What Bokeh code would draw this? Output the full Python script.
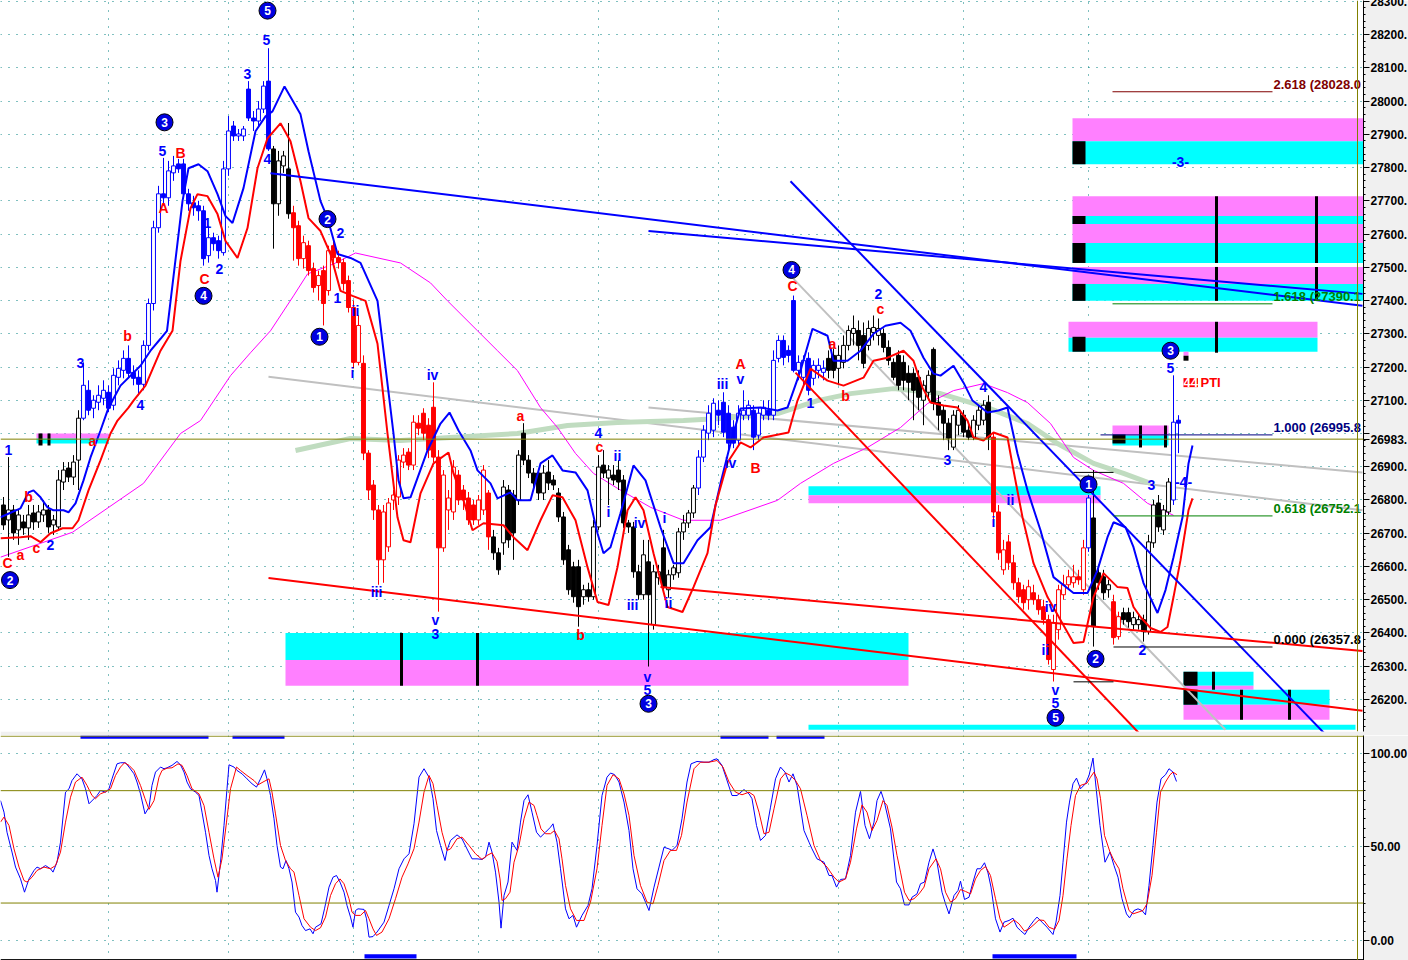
from bokeh.plotting import figure
from bokeh.layouts import column
from bokeh.models import (Range1d, FixedTicker, SingleIntervalTicker, Span, Label,
                          ColumnDataSource, CustomJSTickFormatter)
from bokeh.core.properties import value
from bokeh.embed import file_html
from bokeh.resources import INLINE

# ---------------- price bars (bar index = position in list) ----------------
opens = [26785,26740,26770,26710,26734,26716,26761,26734,26755,26770,
         26725,26719,26854,26896,26869,26920,27046,27130,27076,27094,
         27106,27124,27085,27169,27190,27226,27184,27169,27148,27265,
         27391,27619,27721,27709,27784,27811,27811,27721,27694,27685,
         27670,27535,27589,27580,27544,27796,27925,27895,27895,28036,
         27949,27940,27976,28060,27856,27691,27805,27796,27664,27625,
         27526,27565,27496,27445,27490,27430,27565,27529,27514,27460,
         27379,27214,27211,26941,26845,26770,26620,26659,26800,26809,
         26914,26944,26905,27031,27061,27025,27079,26929,26656,26770,
         26764,26875,26830,26806,26785,26740,26770,26821,26689,26641,
         26671,26830,26815,26800,27001,26920,26881,26881,26821,26884,
         26860,26821,26749,26650,26599,26599,26509,26530,26509,26719,
         26905,26866,26875,26890,26860,26731,26719,26584,26515,26614,
         26425,26566,26656,26530,26575,26581,26704,26731,26761,26836,
         26929,27001,27010,27070,27094,27061,27019,26980,27055,27055,
         27070,26995,27055,27070,27055,27226,27280,27250,27400,27190,
         27169,27226,27166,27190,27184,27226,27235,27196,27214,27265,
         27301,27310,27295,27265,27304,27295,27301,27259,27214,27235,
         27214,27181,27181,27169,27100,27124,27253,27094,27070,27031,
         26959,27025,27055,27010,26989,27025,27040,27094,26989,26764,
         26590,26674,26611,26551,26530,26500,26521,26500,26479,26440,
         26290,26410,26515,26545,26551,26569,26530,26656,26746,26581,
         26569,26530,26494,26389,26461,26461,26425,26425,26440,26404,
         26671,26791,26710,26764,26800,27040]
highs = [26809,26929,26785,26770,26755,26785,26785,26785,26800,26785,
         26755,26890,26914,26914,26935,27070,27214,27160,27115,27145,
         27160,27145,27196,27220,27250,27265,27205,27190,27280,27406,
         27640,27745,27829,27820,27835,27826,27826,27736,27715,27700,
         27685,27625,27604,27595,27820,27955,27940,27916,27925,28060,
         27970,28000,28060,28159,27865,27850,27850,27934,27685,27640,
         27595,27580,27514,27490,27505,27565,27586,27550,27526,27475,
         27400,27355,27235,26950,26860,26785,26785,26806,26830,26935,
         26956,26956,27055,27055,27076,27046,27154,26950,26890,26830,
         26920,26890,26845,26824,26800,26815,26905,26830,26710,26656,
         26860,26845,26830,26950,27031,26935,26896,26890,26905,26920,
         26875,26836,26764,26665,26614,26620,26545,26551,26740,26935,
         26950,26905,26905,26920,26875,26740,26734,26605,26680,26680,
         26605,26605,26710,26590,26605,26716,26755,26770,26845,26950,
         27025,27085,27106,27100,27124,27085,27040,27085,27130,27100,
         27085,27076,27100,27100,27250,27295,27295,27265,27415,27235,
         27235,27244,27220,27226,27220,27250,27256,27265,27295,27325,
         27355,27340,27334,27340,27355,27346,27316,27280,27226,27250,
         27235,27205,27196,27190,27160,27190,27259,27115,27085,27046,
         27070,27085,27070,27025,27055,27085,27100,27115,27004,26785,
         26680,26695,26635,26566,26545,26560,26545,26515,26500,26455,
         26455,26545,26575,26590,26605,26590,26680,26815,26890,26605,
         26590,26560,26515,26464,26476,26476,26464,26455,26455,26695,
         26800,26815,26785,26866,27175,27055]
lows = [26710,26629,26680,26665,26695,26680,26710,26716,26734,26701,
        26695,26710,26830,26854,26845,26830,27040,27055,27046,27070,
        27085,27064,27070,27145,27166,27166,27145,27115,27130,27250,
        27370,27604,27685,27685,27760,27784,27706,27670,27655,27640,
        27505,27514,27550,27526,27535,27775,27880,27880,27880,27940,
        27910,27925,27964,27850,27556,27655,27784,27646,27520,27505,
        27496,27475,27424,27400,27325,27415,27514,27496,27430,27364,
        27196,27205,26920,26800,26740,26545,26551,26644,26770,26785,
        26896,26890,26890,26995,26980,26926,26914,26464,26644,26710,
        26740,26785,26770,26725,26725,26725,26755,26650,26620,26575,
        26635,26656,26620,26785,26905,26866,26830,26800,26800,26830,
        26830,26734,26605,26515,26491,26419,26485,26494,26500,26710,
        26866,26785,26845,26830,26716,26701,26566,26500,26500,26299,
        26410,26545,26530,26506,26560,26566,26680,26716,26746,26815,
        26914,26980,26989,27025,26989,26950,26956,26965,27040,27040,
        26950,26980,27040,27040,27040,27214,27205,27214,27184,27160,
        27145,27115,27145,27166,27160,27166,27166,27145,27196,27250,
        27265,27220,27196,27250,27280,27265,27244,27205,27160,27130,
        27130,27100,27040,27070,27025,27100,27070,27010,26980,26950,
        26950,26995,26989,26980,26980,27010,27025,26950,26740,26620,
        26575,26590,26530,26491,26470,26470,26485,26455,26425,26305,
        26254,26380,26500,26530,26536,26545,26515,26644,26359,26530,
        26500,26506,26365,26380,26425,26416,26410,26410,26374,26395,
        26656,26704,26695,26755,26785,26941]
closes = [26725,26770,26701,26755,26716,26755,26734,26764,26770,26719,
          26740,26860,26890,26869,26914,27046,27145,27070,27100,27115,
          27130,27076,27175,27196,27226,27181,27166,27148,27265,27391,
          27619,27721,27709,27790,27805,27796,27721,27691,27679,27670,
          27526,27589,27571,27550,27796,27910,27895,27901,27916,27949,
          27940,27976,28045,27856,27691,27820,27835,27661,27619,27526,
          27574,27490,27439,27475,27391,27550,27529,27514,27451,27379,
          27214,27325,26941,26830,26770,26620,26764,26791,26815,26920,
          26935,26905,27034,27016,27001,26950,26929,26656,26875,26806,
          26899,26800,26800,26740,26740,26800,26890,26689,26641,26590,
          26839,26680,26701,26935,26920,26881,26851,26821,26881,26851,
          26845,26749,26620,26530,26509,26479,26530,26509,26719,26899,
          26881,26890,26860,26854,26731,26719,26584,26515,26635,26515,
          26584,26584,26539,26575,26596,26704,26731,26761,26836,26929,
          27010,27061,27091,27055,27004,26971,26971,27061,27070,27085,
          26989,27061,27079,27055,27220,27280,27229,27235,27190,27214,
          27220,27130,27205,27205,27196,27190,27190,27235,27265,27310,
          27316,27265,27211,27316,27319,27316,27259,27220,27169,27145,
          27160,27154,27130,27109,27145,27175,27091,27055,27031,26986,
          27055,27070,27004,26989,27040,27070,27085,26989,26764,26641,
          26650,26611,26551,26509,26491,26539,26500,26470,26440,26320,
          26431,26530,26545,26569,26569,26560,26656,26806,26419,26551,
          26521,26545,26386,26449,26440,26434,26446,26440,26404,26674,
          26785,26719,26770,26854,27034,27031]

# ---------------- moving averages (bar, price) ----------------
fast_ma_bar = [-0.6,3.4,5.0,6.0,7.4,8.8,10.0,12.0,13.0,14.4,16.0,17.4,19.4,20.8,21.8,23.4,27.4,29.4,31.4,32.7,
               35.8,37.0,39.0,40.8,42.8,44.4,45.8,48.0,50.4,52.4,53.8,56.2,59.4,61.0,63.4,64.8,66.8,69.4,71.4,74.8,
               76.0,78.0,79.0,80.0,81.4,84.8,87.4,89.2,91.0,93.4,94.8,97.4,98.8,101.4,102.8,105.4,107.4,109.8,111.8,114.4,
               116.8,118.8,120.0,121.4,123.4,126.0,128.4,131.4,134.0,136.0,138.8,141.4,143.4,145.4,147.4,151.4,154.8,156.8,159.4,161.8,
               164.8,166.0,168.8,171.4,174.0,176.4,179.4,181.4,184.0,186.0,187.4,190.0,192.0,193.8,196.8,199.0,200.8,202.8,204.8,207.4,
               210.0,214.0,216.8,218.8,220.8,222.0,224.4,226.0,228.0,230.8,232.4,234.0,235.8,237.0,237.8]
fast_ma = [26748,26775,26823,26829,26808,26778,26769,26769,26763,26790,26859,26928,27009,27069,27099,27144,27204,27249,27285,27309,
           27699,27798,27810,27789,27720,27654,27633,27738,27909,27954,27969,28044,27960,27849,27699,27648,27540,27528,27513,27399,
           27249,27000,26859,26805,26808,26949,27030,27063,27009,26949,26889,26850,26805,26823,26799,26799,26910,26934,26889,26883,
           26829,26700,26640,26658,26760,26904,26859,26718,26610,26610,26679,26718,26850,26970,27075,27078,27069,27078,27189,27315,
           27294,27219,27219,27249,27300,27324,27333,27309,27228,27180,27174,27204,27153,27099,27063,27069,27078,26940,26829,26709,
           26568,26520,26520,26589,26688,26733,26718,26658,26550,26460,26529,26628,26748,26910,26964]
slow_ma_bar = [-0.6,3.4,5.4,7.4,9.4,11.8,13.8,15.0,17.0,19.4,21.4,22.8,25.0,26.0,28.4,31.4,33.8,35.4,37.4,38.8,
               40.8,42.8,44.4,46.8,48.8,50.8,52.8,55.4,57.4,59.4,61.0,63.4,65.4,67.4,69.8,72.4,74.8,76.8,78.8,80.0,
               81.4,83.4,86.0,89.0,90.0,92.0,93.8,96.0,100.0,102.0,104.8,107.4,109.8,111.8,114.4,116.8,118.8,121.0,122.8,124.8,
               126.4,128.0,130.0,132.8,135.8,138.0,140.8,142.4,144.8,147.4,149.4,152.0,157.0,158.8,161.4,164.8,168.0,172.0,174.0,176.8,
               180.0,182.0,183.8,185.4,188.0,190.8,192.8,194.0,196.0,198.0,200.8,202.0,203.8,206.0,208.8,211.4,214.0,216.0,218.0,220.0,
               222.8,224.8,226.0,227.4,229.4,231.4,232.8,234.0,235.4,237.0,237.8]
slow_ma = [26685,26688,26691,26673,26700,26715,26715,26739,26829,26919,27000,27039,27078,27099,27144,27249,27309,27519,27678,27720,
           27714,27660,27579,27528,27618,27798,27888,27933,27879,27759,27648,27609,27540,27429,27414,27399,27270,27000,26748,26679,
           26673,26820,26910,26943,26880,26799,26709,26730,26724,26688,26649,26739,26814,26808,26739,26598,26493,26484,26598,26769,
           26808,26769,26640,26478,26463,26538,26640,26784,26913,26973,26958,26988,27003,27099,27195,27159,27144,27168,27219,27228,
           27249,27219,27138,27093,27084,27078,27039,26988,26979,27003,26988,26889,26748,26610,26508,26439,26370,26373,26508,26580,
           26538,26535,26478,26448,26415,26403,26418,26508,26619,26769,26805]
long_ma_bar = [-0.6,13.8,28.0,35.4,39.4,45.4,49.4,53.4,58.0,60.8,66.0,70.4,79.4,85.4,88.8,94.8,98.8,102.8,107.4,110.8,
               114.4,118.0,122.8,129.4,136.0,143.4,154.8,159.4,166.0,172.8,179.4,184.8,190.0,196.0,200.8,204.8,209.4,214.0,218.0,224.0,
               228.8,234.0]
long_ma = [26628,26703,26850,27000,27039,27174,27243,27309,27414,27480,27510,27543,27513,27453,27399,27309,27249,27189,27078,27018,
           26940,26880,26835,26778,26739,26739,26799,26850,26910,26958,27018,27090,27129,27150,27123,27093,27030,26928,26889,26850,
           26790,26754]
trend_ma_bar = [58.4,69.4,79.4,89.4,102.8,112.8,122.8,136.0,143.4,154.8,162.8,169.4,178.0,187.4,196.8,204.8,210.8,218.0,224.0,229.4]
trend_ma = [26949,26985,26979,26988,27000,27024,27033,27039,27045,27060,27099,27120,27135,27120,27078,27030,26970,26910,26880,26850]

# ---------------- trend lines (bar0, price0, bar1, price1) ----------------
blue_lines = [(53.4, 27783, 271.8, 27384), (129.0, 27609, 271.8, 27420), (157.4, 27759, 265.4, 26079)]
red_lines = [(158.4, 27183, 227.4, 26094), (53.0, 26565, 271.8, 26166), (131.4, 26538, 271.8, 26346)]
gray_lines = [(129.0, 27078, 271.8, 26883), (53.0, 27171, 271.8, 26769), (158.0, 27465, 244.4, 26109)]

# ---------------- projection zones ----------------
zone_left = [56.4, 56.4, 161.0, 161.0, 6.6, 6.6, 213.8, 213.8, 213.8, 213.8, 213.8, 213.8, 213.8, 213.8,
             213.0, 213.0, 221.8, 221.8, 236.0, 236.0, 236.0, 236.0, 161.0, 236.0]
zone_right = [181.0, 181.0, 219.4, 219.4, 21.0, 21.0, 275, 275, 275, 275, 275, 275, 275, 275,
              262.8, 262.8, 233.0, 233.0, 250.0, 250.0, 265.2, 265.2, 270.4, 237.0]
zone_top = [26400, 26319, 26841, 26814, 27000, 26985, 27948, 27879, 27714, 27654, 27630, 27573, 27501, 27450,
            27336, 27288, 27024, 26994, 26283, 26241, 26229, 26184, 26124, 27246]
zone_bottom = [26319, 26241, 26814, 26790, 26985, 26970, 27879, 27810, 27654, 27630, 27573, 27513, 27450, 27399,
               27288, 27246, 26994, 26964, 26241, 26229, 26184, 26139, 26109, 27234]
zone_kind = ["c", "m", "c", "m", "m", "c", "m", "c", "m", "c", "m", "c", "m", "c",
             "m", "c", "m", "c", "c", "m", "c", "m", "c", "m"]
mark_left = [213.8, 213.8, 213.8, 213.8, 213.8, 221.8, 236.0, 236.0, 7.0, 8.8, 236.0]
mark_right = [216.4, 216.4, 216.4, 216.4, 216.4, 224.4, 238.8, 238.8, 7.8, 9.4, 237.0]
mark_top = [27879, 27654, 27573, 27450, 27291, 26997, 26283, 26229, 27000, 27000, 27234]
mark_bottom = [27810, 27630, 27513, 27399, 27246, 26970, 26241, 26184, 26964, 26964, 27219]
tbar_x = [79.6, 94.8, 242.6, 242.6, 262.6, 262.6, 242.6, 227.4, 232.4, 242.0, 247.6, 257.2]
tbar_top = [26400, 26400, 27714, 27501, 27714, 27501, 27336, 27024, 27024, 26283, 26229, 26229]
tbar_bottom = [26241, 26241, 27513, 27399, 27513, 27399, 27243, 26958, 26958, 26229, 26139, 26139]

# ---------------- Fibonacci projection ----------------
fib_ratio = ["2.618", "1.618", "1.000", "0.618", "0.000"]
fib_level = [28028.0, 27390.1, 26995.8, 26752.1, 26357.8]
fib_start = [221.8, 221.8, 219.4, 222.0, 222.0]
fib_end = 253.8
swing_marks = [26883, 26253]

# ---------------- wave labels ----------------
wave_bar = [1.0,9.4,15.4,27.4,31.8,40.8,43.2,48.8,52.6,52.8,67.4,66.8,70.4,69.8,74.6,85.8,86.4,86.4,119.0,122.8,
            121.0,125.8,127.2,128.8,128.8,132.2,133.0,143.8,145.4,147.4,161.4,175.0,188.8,196.0,198.0,201.4,208.4,209.4,210.4,210.4,
            227.8,229.6,233.4,235.4,236.0]
wave_price = [26949,26664,27213,27087,27849,27633,27495,28080,28185,27825,27603,27408,27369,27183,26523,27177,26439,26397,27003,26931,
              26763,26484,26730,26268,26229,26745,26490,27150,26910,27165,27093,27420,26919,27141,26733,26799,26349,26478,26229,26190,
              26349,26844,27198,27816,26853]
wave_text = ["1","2","3","4","5","1","2","3","5","4","2","1","ii","i","iii","iv","v","3","4","ii",
             "i","iii","iv","v","5","i","ii","iii","iv","v","1","2","3","4","i","ii","ii","iv","v","5",
             "2","3","5","-3-","-4-"]
corr_bar = [0.8,3.4,6.6,5.0,17.8,24.8,32.0,35.4,40.2,103.4,115.4,119.2,147.4,150.4,157.8,165.8,168.4,175.4]
corr_price = [26610,26634,26655,26808,26976,27294,27678,27843,27465,27054,26394,26958,27210,26895,27444,27270,27114,27375]
corr_text = ["C","a","c","b","a","b","A","B","C","a","b","c","A","B","C","a","b","c"]
major_bar = [1.3,32.2,40.0,52.8,64.8,63.2,129.0,157.6,210.4,217.0,218.4,233.4]
major_price = [26559,27936,27414,28272,27645,27291,26187,27492,26145,26847,26322,27249]
major_text = ["2","3","4","5","2","1","3","4","5","1","2","3"]

# ---------------- stochastic ----------------
k_bar = [-0.6,0.1,0.7,1.7,2.4,3.4,4.2,5.1,6.1,6.7,7.4,8.4,9.4,9.9,10.7,11.4,12.4,13.1,13.7,14.7,
         15.7,16.4,17.1,18.1,18.7,19.4,20.4,21.1,21.7,22.7,23.4,24.4,25.1,26.1,26.7,27.4,28.3,29.1,29.7,30.4,
         31.4,32.1,32.7,33.7,34.7,35.4,36.1,36.7,37.4,38.4,39.1,39.7,40.4,41.1,41.7,42.4,42.7,43.4,44.1,44.7,
         45.1,46.1,46.7,47.7,48.7,49.7,50.6,51.4,52.2,52.7,53.4,54.1,54.7,55.4,55.9,56.5,57.1,57.7,58.4,59.1,
         59.7,60.4,61.3,61.9,62.4,63.5,64.2,65.1,65.9,66.6,67.3,68.1,68.7,69.4,69.9,70.4,70.9,72.1,72.6,73.1,
         73.9,74.7,76.1,77.1,78.1,79.1,80.1,81.1,82.1,83.1,84.1,85.1,85.9,86.6,87.4,88.3,88.7,
         89.4,90.7,91.7,92.7,93.7,94.7,95.7,96.4,97.1,97.7,98.4,99.1,99.5,100.1,100.9,101.7,102.7,103.4,104.1,104.9,
         105.7,106.6,107.4,108.4,109.4,109.9,110.7,111.4,112.4,113.1,113.9,114.6,115.7,116.9,117.7,118.7,119.7,120.7,121.4,122.2,
         123.1,124.1,125.1,125.9,126.7,127.7,128.4,129.1,130.1,131.1,132.1,133.1,133.7,134.7,135.7,136.7,137.5,138.7,140.1,141.1,
         142.1,142.7,143.7,144.6,145.7,146.7,148.1,149.1,149.7,150.6,151.4,152.4,153.4,154.4,155.4,156.3,157.1,157.9,158.7,160.1,
         161.1,161.7,162.7,164.1,165.1,165.7,166.6,167.4,168.4,169.4,170.4,171.4,172.3,173.2,174.1,174.7,175.5,176.1,177.4,178.6,
         179.4,180.2,181.1,181.7,182.7,183.4,184.2,185.1,185.9,186.7,187.7,188.4,189.1,190.1,190.9,191.4,192.2,193.1,193.9,194.7,
         195.4,196.2,196.9,197.5,198.4,199.3,200.1,201.1,201.9,202.7,203.4,204.3,205.1,206.1,206.7,207.7,208.7,209.9,210.5,211.3,
         211.9,212.6,213.2,213.9,214.6,215.4,216.4,217.1,217.5,217.9,218.4,219.3,220.3,221.3,222.1,222.9,223.7,224.6,225.2,226.1,
         226.9,227.7,228.4,229.1,229.9,230.7,231.5,232.4,233.1,233.9,234.6]
k_val = [74.7,68.5,57.8,47.2,39.2,32.9,25.8,32.9,37.4,39.2,38.3,40.0,38.3,36.5,41.8,52.5,79.2,81.0,85.4,89.0,
         86.3,81.0,73.0,75.7,77.4,80.1,79.2,81.0,86.3,94.3,94.9,94.9,92.6,89.0,84.6,78.3,67.6,71.2,82.8,89.9,
         92.6,91.7,92.2,93.5,95.6,93.8,89.9,84.6,81.0,79.2,77.4,68.5,57.8,45.4,38.3,32.0,25.8,41.8,61.4,81.0,
         93.8,92.6,90.8,89.0,86.3,83.7,81.9,86.3,91.1,86.3,77.4,65.0,50.7,39.2,38.3,42.7,38.3,31.2,15.1,12.5,
         8.0,5.3,6.2,3.6,7.1,8.9,16.9,28.5,33.8,34.7,31.2,25.8,18.7,12.5,7.1,16.0,16.9,16.6,11.6,1.8,
         2.1,4.5,9.8,18.7,27.6,38.3,43.6,46.3,62.3,87.2,91.7,87.2,75.7,58.7,50.7,42.7,48.1,
         53.4,56.4,54.3,48.9,43.6,43.6,43.3,44.5,52.5,47.2,36.5,20.5,6.6,24.0,31.2,52.5,48.1,63.2,74.7,77.8,
         68.5,57.8,55.2,57.8,60.5,62.3,52.5,38.3,16.9,11.6,13.4,7.1,13.4,18.7,27.6,50.7,77.4,87.2,89.4,88.6,
         84.6,73.9,58.7,38.3,27.6,24.9,20.5,16.0,28.5,39.2,49.8,48.9,48.1,50.7,65.0,84.6,94.3,95.6,95.2,95.2,
         96.6,97.0,93.5,86.3,77.4,77.4,80.6,78.3,75.7,61.4,53.4,56.1,71.2,86.3,92.6,89.9,84.6,89.0,82.8,58.7,
         52.5,48.9,43.6,41.8,34.7,34.7,28.5,32.6,32.9,45.4,68.5,79.6,61.4,54.3,63.2,74.7,79.6,74.7,59.6,31.2,
         27.6,19.0,19.0,23.1,24.9,30.3,31.2,41.8,48.9,41.8,25.8,19.6,14.2,24.0,26.7,31.7,21.9,23.1,31.2,38.3,
         38.3,41.5,36.1,28.5,11.6,4.5,9.8,10.7,11.9,7.1,5.3,3.2,7.1,10.7,12.5,9.8,7.1,3.2,9.8,24.0,
         41.8,63.2,73.9,83.7,86.7,81.0,83.7,88.1,92.6,97.4,84.6,61.4,41.8,47.2,40.0,33.8,22.3,14.2,12.1,16.0,
         16.9,16.0,13.7,29.4,50.7,73.9,86.3,88.5,91.7,89.9,84.9]
d_bar = [-0.6,0.1,1.1,2.1,3.1,4.1,4.7,5.7,6.7,8.1,9.4,10.4,11.4,12.4,13.4,14.4,15.7,16.7,17.7,18.4,
         19.4,20.6,21.4,22.4,23.4,24.2,25.1,26.1,27.4,28.3,29.1,30.1,31.1,31.7,32.7,33.7,34.9,35.7,36.7,37.7,
         39.1,40.1,41.1,42.1,42.9,43.7,44.6,45.4,46.6,47.4,48.7,50.1,50.9,52.1,53.1,53.7,54.4,55.4,56.4,57.4,
         58.1,59.1,60.1,61.4,62.4,63.4,64.4,65.4,66.4,67.3,68.1,69.1,69.7,70.4,71.4,72.4,73.1,73.9,74.6,75.7,
         77.1,78.4,79.7,80.9,82.1,83.1,84.1,85.1,85.9,86.7,87.7,88.7,
         89.4,90.7,91.7,93.1,94.4,95.7,96.7,97.7,98.7,99.3,99.7,100.4,101.3,102.1,103.1,104.1,105.1,106.1,106.7,107.5,
         108.4,109.4,110.2,111.1,111.7,112.4,113.4,114.6,116.1,117.4,118.7,119.7,120.7,121.9,123.1,124.1,125.1,126.1,127.4,128.7,
         129.9,130.9,132.1,133.4,134.6,135.6,136.7,138.1,139.4,141.1,142.7,143.9,145.1,146.4,147.7,149.1,150.1,151.1,152.1,153.1,
         154.1,155.4,156.4,157.4,158.4,159.4,160.7,162.1,163.4,164.7,166.1,167.1,168.4,169.4,170.6,171.7,172.7,173.7,174.7,175.9,
         176.7,177.7,178.7,
         179.4,180.2,181.1,182.1,183.1,184.1,185.1,186.5,187.4,188.4,189.4,190.4,191.4,192.4,193.4,194.4,195.4,196.4,197.4,198.4,
         199.3,200.1,201.1,202.1,203.1,204.2,205.1,206.1,207.1,208.1,209.1,210.2,211.1,211.9,212.7,213.5,214.4,215.4,216.7,217.4,
         218.1,218.7,219.4,220.2,221.3,222.1,223.1,223.9,225.1,225.9,226.9,227.9,228.7,229.7,230.6,231.4,232.4,233.3,233.9,234.7]
d_val = [63.2,65.9,61.4,48.9,39.2,32.0,31.2,33.8,37.4,39.2,38.3,40.0,47.2,63.2,76.5,84.6,87.2,82.8,77.4,75.7,
         78.3,79.6,81.0,88.1,92.6,94.9,93.5,90.8,82.8,75.7,70.0,74.7,87.2,90.8,92.0,92.2,94.3,93.5,88.1,81.0,
         78.3,72.1,57.8,43.6,33.8,43.6,63.2,81.0,92.6,90.8,88.1,85.4,83.1,84.9,86.3,79.2,67.6,50.7,42.7,38.3,
         36.5,24.0,11.6,7.1,5.3,6.8,12.5,24.0,30.3,32.9,30.3,22.3,15.1,13.4,13.4,16.0,11.6,6.2,2.7,4.5,
         11.6,22.3,33.8,40.9,49.0,63.2,79.2,88.1,83.7,72.1,57.8,48.1,
         48.9,54.3,55.2,50.7,46.3,43.3,45.4,46.8,42.2,32.9,21.4,22.3,25.8,41.8,50.7,65.0,73.9,72.1,66.8,59.6,
         57.0,57.0,58.7,54.3,43.6,29.4,16.9,10.7,10.7,20.5,38.3,61.4,82.8,88.5,86.3,78.3,66.8,45.4,29.4,20.5,
         19.6,29.4,42.7,48.1,48.1,56.1,73.9,91.7,95.2,95.2,96.1,92.6,84.6,79.2,77.8,79.2,77.4,68.5,57.0,57.8,
         70.3,86.3,89.5,88.1,85.4,81.0,66.8,50.7,42.7,39.2,33.8,31.2,32.9,41.8,59.6,72.4,68.5,58.7,64.1,74.7,
         72.1,60.5,45.4,
         36.5,25.8,21.4,22.3,24.9,28.5,38.3,43.6,38.3,25.8,20.5,22.3,27.2,26.2,24.9,32.9,37.4,39.5,34.7,22.3,
         11.6,7.1,8.9,11.0,8.9,5.0,6.2,8.5,11.0,10.7,7.1,5.9,10.7,24.0,43.6,61.4,77.4,82.8,84.0,87.2,
         89.9,86.3,75.7,56.1,47.2,42.7,38.3,27.6,16.0,14.2,15.1,16.0,19.6,34.7,57.8,79.2,84.6,88.5,89.9,88.5]
signal_top_start = [15.4, 45.8, 143.4, 154.6]
signal_top_end = [41.0, 56.2, 153.0, 164.2]
signal_bot_start = [72.2, 197.8]
signal_bot_end = [82.6, 214.6]

week_bars = [21, 45, 70, 95, 119, 143, 167, 192, 217]
price_ticks = list(range(26200, 28400, 100))
last_price = 26983

# ======================= drawing =======================
BLUE, RED, BLACK = "#0000ff", "#ff0000", "#000000"
CYAN, MAGENTA = "#00ffff", "#ff80ff"
OLIVE, TEAL = "#808000", "#008080"
FONT = "Liberation Sans"

x_rng = Range1d(-0.6, 272.0)


def style_axis(ax):
    ax.axis_line_color = BLACK
    ax.major_tick_out = 6
    ax.major_tick_in = 0
    ax.minor_tick_out = 2
    ax.minor_tick_in = 0
    ax.major_tick_line_color = BLACK
    ax.minor_tick_line_color = BLACK
    ax.major_label_text_font = FONT
    ax.major_label_text_font_size = "12px"
    ax.major_label_text_font_style = "bold"
    ax.major_label_text_color = BLACK
    ax.major_label_standoff = 1


p1 = figure(frame_width=1363, frame_height=731, x_range=x_rng, y_range=Range1d(26103.6, 28302.5),
            x_axis_location=None, y_axis_location="right",
            output_backend="svg", toolbar_location=None,
            min_border_left=0, min_border_right=0, min_border_top=0, min_border_bottom=4)
p1.outline_line_color = None
p1.border_fill_color = "#f0f0f0"
p1.background_fill_color = "white"
p1.yaxis.ticker = FixedTicker(ticks=price_ticks + [last_price],
                              minor_ticks=[v for v in range(26120, 28320, 20) if v % 100 != 0])
p1.yaxis.formatter = CustomJSTickFormatter(code="return tick.toFixed(0) + '.';")
p1.yaxis.major_label_overrides = {27000: "", last_price: f"{last_price}."}
style_axis(p1.yaxis[0])
p1.ygrid.ticker = SingleIntervalTicker(interval=100)
p1.xgrid.ticker = FixedTicker(ticks=week_bars)
for g in (p1.xgrid, p1.ygrid):
    g.grid_line_color = TEAL
    g.grid_line_dash = "1 7"
    g.grid_line_width = 1

# zones
zcol = [CYAN if k == "c" else MAGENTA for k in zone_kind]
p1.quad(left=zone_left, right=zone_right, top=zone_top, bottom=zone_bottom,
        fill_color=zcol, line_color=None)
p1.quad(left=mark_left, right=mark_right, top=mark_top, bottom=mark_bottom,
        fill_color=BLACK, line_color=None)
p1.segment(x0=tbar_x, y0=tbar_bottom, x1=tbar_x, y1=tbar_top, line_color=BLACK, line_width=3)

# gray trend lines + long averages
p1.segment(x0=[l[0] for l in gray_lines], y0=[l[1] for l in gray_lines],
           x1=[l[2] for l in gray_lines], y1=[l[3] for l in gray_lines],
           line_color="#c0c0c0", line_width=2)
p1.line(trend_ma_bar, trend_ma, line_color="#c0dcc0", line_width=5)
p1.line(long_ma_bar, long_ma, line_color="#ff00ff", line_width=1)

# candles
n = len(closes)
idx = list(range(n))
runs = [(0, 15, BLACK), (16, 53, BLUE), (54, 57, BLACK), (58, 97, RED), (98, 138, BLACK),
        (139, 164, BLUE), (165, 197, BLACK), (198, 216, RED), (217, 217, BLUE), (218, 221, BLACK),
        (222, 223, RED), (224, 233, BLACK), (234, 235, BLUE)]
ccol = [BLACK] * n
for a, b, c in runs:
    for i in range(a, b + 1):
        ccol[i] = c
tops = [max(o, c) for o, c in zip(opens, closes)]
bots = [min(o, c) for o, c in zip(opens, closes)]
fills = ["white" if c >= o else col for o, c, col in zip(opens, closes, ccol)]
csrc = ColumnDataSource(dict(x=idx, h=highs, l=lows, top=tops, bot=bots, col=ccol, fill=fills))
p1.segment(x0="x", y0="l", x1="x", y1="h", line_color="col", line_width=1, source=csrc)
p1.vbar(x="x", width=0.78, top="top", bottom="bot", fill_color="fill", line_color="col",
        line_width=1, source=csrc)

# fast / slow averages
p1.line(fast_ma_bar, fast_ma, line_color=BLUE, line_width=2)
p1.line(slow_ma_bar, slow_ma, line_color=RED, line_width=2)

# trend lines
p1.segment(x0=[l[0] for l in blue_lines], y0=[l[1] for l in blue_lines],
           x1=[l[2] for l in blue_lines], y1=[l[3] for l in blue_lines],
           line_color=BLUE, line_width=2)
p1.segment(x0=[l[0] for l in red_lines], y0=[l[1] for l in red_lines],
           x1=[l[2] for l in red_lines], y1=[l[3] for l in red_lines],
           line_color=RED, line_width=2)

# fibonacci
fib_colors = ["#800000", "#008000", "#000080", "#008000", BLACK]
p1.segment(x0=fib_start, y0=fib_level, x1=[fib_end] * 5, y1=fib_level, line_color=fib_colors, line_width=1)
p1.segment(x0=[214.0, 214.0], y0=swing_marks, x1=[222.0, 222.0], y1=swing_marks, line_color=BLACK, line_width=1)
p1.text(x=[fib_end + 0.2] * 5, y=fib_level,
        text=[f"{r} ({lv:.1f}" for r, lv in zip(fib_ratio, fib_level)],
        text_color=fib_colors, text_font=value(FONT), text_font_size="13px", text_font_style="bold",
        text_align="left", text_baseline="bottom")

# current price line
p1.add_layout(Span(location=last_price, dimension="width", line_color=OLIVE, line_width=1))
p1.add_layout(Span(location=270.8, dimension="height", line_color=OLIVE, line_width=1))

# wave labels
p1.text(x=wave_bar, y=wave_price, text=wave_text, text_color=BLUE, text_font=value(FONT),
        text_font_size="14px", text_font_style="bold", text_align="center", text_baseline="middle")
p1.text(x=corr_bar, y=corr_price, text=corr_text, text_color=RED, text_font=value(FONT),
        text_font_size="14px", text_font_style="bold", text_align="center", text_baseline="middle")
p1.scatter(x=major_bar, y=major_price, marker="circle", size=17, fill_color="#0000e0",
           line_color=BLACK, line_width=1)
p1.text(x=major_bar, y=major_price, text=major_text, text_color="white", text_font=value(FONT),
        text_font_size="12px", text_font_style="bold", text_align="center", text_baseline="middle")

p1.add_layout(Label(x=236.0, y=27153, text="44", text_color="white", text_font=FONT,
                    text_font_size="13px", text_font_style="bold", background_fill_color=RED,
                    text_baseline="middle"))
p1.add_layout(Label(x=239.4, y=27153, text="PTI", text_color=RED, text_font=FONT,
                    text_font_size="13px", text_font_style="bold", text_baseline="middle"))

# ---------------- stochastic panel ----------------
p2 = figure(frame_width=1363, frame_height=225, x_range=x_rng, y_range=Range1d(-10.68, 109.45),
            x_axis_location=None, y_axis_location="right",
            output_backend="svg", toolbar_location=None,
            min_border_left=0, min_border_right=0, min_border_top=0, min_border_bottom=0)
p2.outline_line_color = None
p2.border_fill_color = "#f0f0f0"
p2.background_fill_color = "white"
p2.yaxis.ticker = FixedTicker(ticks=[0, 50, 100], minor_ticks=[v for v in range(5, 100, 5) if v != 50])
p2.yaxis.formatter = CustomJSTickFormatter(code="return tick.toFixed(2);")
style_axis(p2.yaxis[0])
p2.ygrid.ticker = FixedTicker(ticks=[0, 50, 100])
p2.xgrid.ticker = FixedTicker(ticks=week_bars)
for g in (p2.xgrid, p2.ygrid):
    g.grid_line_color = TEAL
    g.grid_line_dash = "1 7"
    g.grid_line_width = 1
for lv in (80, 20, 109.1):
    p2.add_layout(Span(location=lv, dimension="width", line_color=OLIVE, line_width=1))
p2.add_layout(Span(location=-10.2, dimension="width", line_color=BLACK, line_width=1))
p2.add_layout(Span(location=270.8, dimension="height", line_color=OLIVE, line_width=1))

p2.quad(left=signal_top_start, right=signal_top_end, top=[109.4] * 4, bottom=[107.7] * 4,
        fill_color=BLUE, line_color=None)
p2.quad(left=signal_bot_start, right=signal_bot_end, top=[-7.4] * 2, bottom=[-9.6] * 2,
        fill_color=BLUE, line_color=None)
p2.line(k_bar, k_val, line_color=BLUE, line_width=1)
p2.line(d_bar, d_val, line_color=RED, line_width=1)

layout = column(p1, p2)
open("out.html", "w").write(file_html(layout, INLINE))
